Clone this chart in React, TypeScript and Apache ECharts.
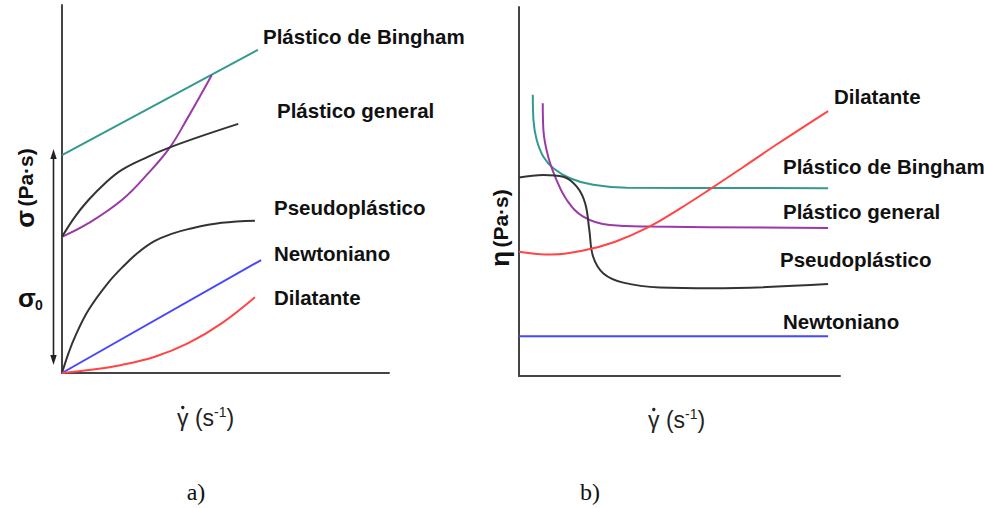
import React, { useEffect, useRef } from "react";
import * as echarts from "echarts";

// Panel a) flow curves: shear stress against shear rate (arbitrary units 0–100)
const stressBingham = [[0, 59.2], [59.9, 87.8]];
const stressGeneralConvex = [[0, 37.0], [8.1, 40.7], [18.3, 47.0], [26.4, 54.3], [33.0, 61.3], [38.6, 69.6], [42.7, 76.0], [45.8, 81.0]];
const stressGeneralConcave = [[0, 37.0], [4.0, 42.5], [8.1, 47.0], [13.1, 51.5], [18.3, 55.2], [26.4, 58.8], [33.0, 61.3], [43.7, 64.7], [53.9, 67.7]];
const stressPseudo = [[0, 0], [2.0, 5.4], [4.0, 9.9], [8.1, 17.1], [14.1, 24.5], [19.1, 29.3], [23.5, 32.9], [28.4, 35.9], [33.5, 37.8], [38.6, 39.1], [48.8, 40.8], [59.0, 41.4]];
const stressNewtonian = [[0, 0], [60.9, 30.7]];
const stressDilatant = [[0, 0], [8.1, 0.8], [18.3, 2.2], [28.4, 4.4], [38.6, 8.1], [48.8, 13.5], [59.0, 20.6]];

// Panel b) viscosity curves: apparent viscosity against shear rate
const viscBingham = [[4.3, 76.2], [4.5, 69.4], [5.5, 64.0], [7.6, 59.4], [10.7, 56.3], [15.9, 53.6], [23.1, 51.8], [33.6, 51.0], [96.3, 50.9]];
const viscGeneral = [[7.4, 73.9], [7.6, 66.7], [9.1, 59.4], [11.7, 53.1], [14.9, 47.7], [20.0, 43.2], [28.3, 40.9], [40.8, 40.5], [96.3, 40.1]];
const viscPseudo = [[0, 53.8], [7.6, 54.5], [13.8, 54.0], [18.0, 51.3], [20.6, 46.8], [21.9, 39.6], [23.1, 32.3], [26.3, 27.8], [32.5, 25.3], [43.9, 24.0], [60.0, 23.8], [96.3, 24.9]];
const viscDilatant = [[0, 33.7], [10, 32.9], [20, 34.0], [30, 36.4], [40, 40.2], [50, 45.3], [60, 50.9], [70, 56.7], [80, 62.6], [96.3, 71.8]];
const viscNewtonian = [[0, 10.8], [96.3, 10.8]];

const fluidNames = ["Plástico de Bingham", "Plástico general", "Pseudoplástico", "Newtoniano", "Dilatante"];
const panelTags = ["a)", "b)"];

const TEAL = "#34998f";
const PURPLE = "#9a3aa6";
const BLACK = "#333333";
const BLUE = "#4646ff";
const RED = "#ff4545";

const LABEL_FONT = 'bold 20.5px "Liberation Sans", Arial, sans-serif';
const AXIS_FONT = '23px "Liberation Sans", Arial, sans-serif';

function curve(data: number[][], color: string, grid: number) {
  return {
    type: "line",
    xAxisIndex: grid,
    yAxisIndex: grid,
    data,
    showSymbol: false,
    smooth: 0.4,
    lineStyle: { color, width: 2 },
    silent: true,
  };
}

function axisPair(grid: number) {
  const line = { show: true, onZero: false, lineStyle: { color: "#444", width: 2 } };
  return {
    x: { type: "value", gridIndex: grid, min: 0, max: 100, axisLine: line, axisTick: { show: false }, axisLabel: { show: false }, splitLine: { show: false } },
    y: { type: "value", gridIndex: grid, min: 0, max: 100, axisLine: line, axisTick: { show: false }, axisLabel: { show: false }, splitLine: { show: false } },
  };
}

function label(text: string, x: number, y: number) {
  return { type: "text", x, y, silent: true, style: { text, font: LABEL_FONT, fill: "#111", textAlign: "left", textVerticalAlign: "middle" } };
}

// shear-rate title: γ with an overdot, then (s^-1)
function rateLabel(x: number, y: number) {
  return {
    type: "group",
    x,
    y,
    silent: true,
    children: [
      {
        type: "text",
        x: 0,
        y: 0,
        style: {
          text: "{g|γ (s}{p|-1}{g|)}",
          fill: "#222",
          textAlign: "left",
          textVerticalAlign: "middle",
          rich: {
            g: { font: AXIS_FONT, lineHeight: 27, verticalAlign: "bottom" },
            p: { font: '14px "Liberation Sans", Arial, sans-serif', lineHeight: 27, verticalAlign: "top", padding: [2, 0, 0, 0] },
          },
        },
      },
      { type: "circle", shape: { cx: 5.8, cy: -8.5, r: 1.7 }, style: { fill: "#222" } },
    ],
  };
}

export default function App() {
  const ref = useRef<HTMLDivElement>(null);

  useEffect(() => {
    if (!ref.current) return;
    const chart = echarts.init(ref.current, undefined, { renderer: "svg" });
    const a = axisPair(0);
    const b = axisPair(1);

    chart.setOption({
      animation: false,
      backgroundColor: "#ffffff",
      grid: [
        { left: 62, top: 5, width: 327, height: 368 },
        { left: 519, top: 7, width: 321, height: 369 },
      ],
      xAxis: [a.x, b.x],
      yAxis: [a.y, b.y],
      series: [
        curve(stressBingham, TEAL, 0),
        curve(stressGeneralConvex, PURPLE, 0),
        curve(stressGeneralConcave, BLACK, 0),
        curve(stressPseudo, BLACK, 0),
        curve(stressNewtonian, BLUE, 0),
        curve(stressDilatant, RED, 0),
        curve(viscBingham, TEAL, 1),
        curve(viscGeneral, PURPLE, 1),
        curve(viscPseudo, BLACK, 1),
        curve(viscDilatant, RED, 1),
        curve(viscNewtonian, BLUE, 1),
      ],
      graphic: [
        // curve names, panel a
        label(fluidNames[0], 263, 36),
        label(fluidNames[1], 277, 110),
        label(fluidNames[2], 274, 207),
        label(fluidNames[3], 274, 253),
        label(fluidNames[4], 274, 297),
        // curve names, panel b
        label(fluidNames[4], 834, 96),
        label(fluidNames[0], 783, 166),
        label(fluidNames[1], 783, 211),
        label(fluidNames[2], 780, 259),
        label(fluidNames[3], 783, 321),
        // yield stress double arrow
        { type: "line", silent: true, shape: { x1: 53.5, y1: 156, x2: 53.5, y2: 358 }, style: { stroke: "#222", lineWidth: 1.6 } },
        { type: "polygon", silent: true, shape: { points: [[53.5, 149], [50.3, 159], [56.7, 159]] }, style: { fill: "#222" } },
        { type: "polygon", silent: true, shape: { points: [[53.5, 365], [50.3, 355], [56.7, 355]] }, style: { fill: "#222" } },
        // axis titles
        {
          type: "text", x: 25, y: 188, rotation: Math.PI / 2, silent: true,
          style: {
            text: "{s|σ} {u|(Pa·s)}", fill: "#111", textAlign: "center", textVerticalAlign: "middle",
            rich: {
              s: { font: 'bold 26px "Liberation Sans", Arial, sans-serif' },
              u: { font: 'bold 21px "Liberation Sans", Arial, sans-serif' },
            },
          },
        },
        { type: "text", x: 27, y: 298, silent: true, style: { text: "σ", font: 'bold 26px "Liberation Sans", Arial, sans-serif', fill: "#111", textAlign: "center", textVerticalAlign: "middle" } },
        { type: "text", x: 39, y: 305, silent: true, style: { text: "0", font: 'bold 14px "Liberation Sans", Arial, sans-serif', fill: "#111", textAlign: "center", textVerticalAlign: "middle" } },
        {
          type: "text", x: 500, y: 228, rotation: Math.PI / 2, silent: true,
          style: {
            text: "{s|η} {u|(Pa·s)}", fill: "#111", textAlign: "center", textVerticalAlign: "middle",
            rich: {
              s: { font: 'bold 26px "Liberation Sans", Arial, sans-serif' },
              u: { font: 'bold 21px "Liberation Sans", Arial, sans-serif' },
            },
          },
        },
        rateLabel(177, 416),
        rateLabel(648, 418),
        // panel tags
        { type: "text", x: 196, y: 492, silent: true, style: { text: panelTags[0], font: '24px "Liberation Serif", "Times New Roman", serif', fill: "#111", textAlign: "center", textVerticalAlign: "middle" } },
        { type: "text", x: 590, y: 492, silent: true, style: { text: panelTags[1], font: '24px "Liberation Serif", "Times New Roman", serif', fill: "#111", textAlign: "center", textVerticalAlign: "middle" } },
      ],
    });

    return () => chart.dispose();
  }, []);

  return <div ref={ref} style={{ position: "fixed", left: 0, top: 0, width: 984, height: 508, background: "#fff" }} />;
}
